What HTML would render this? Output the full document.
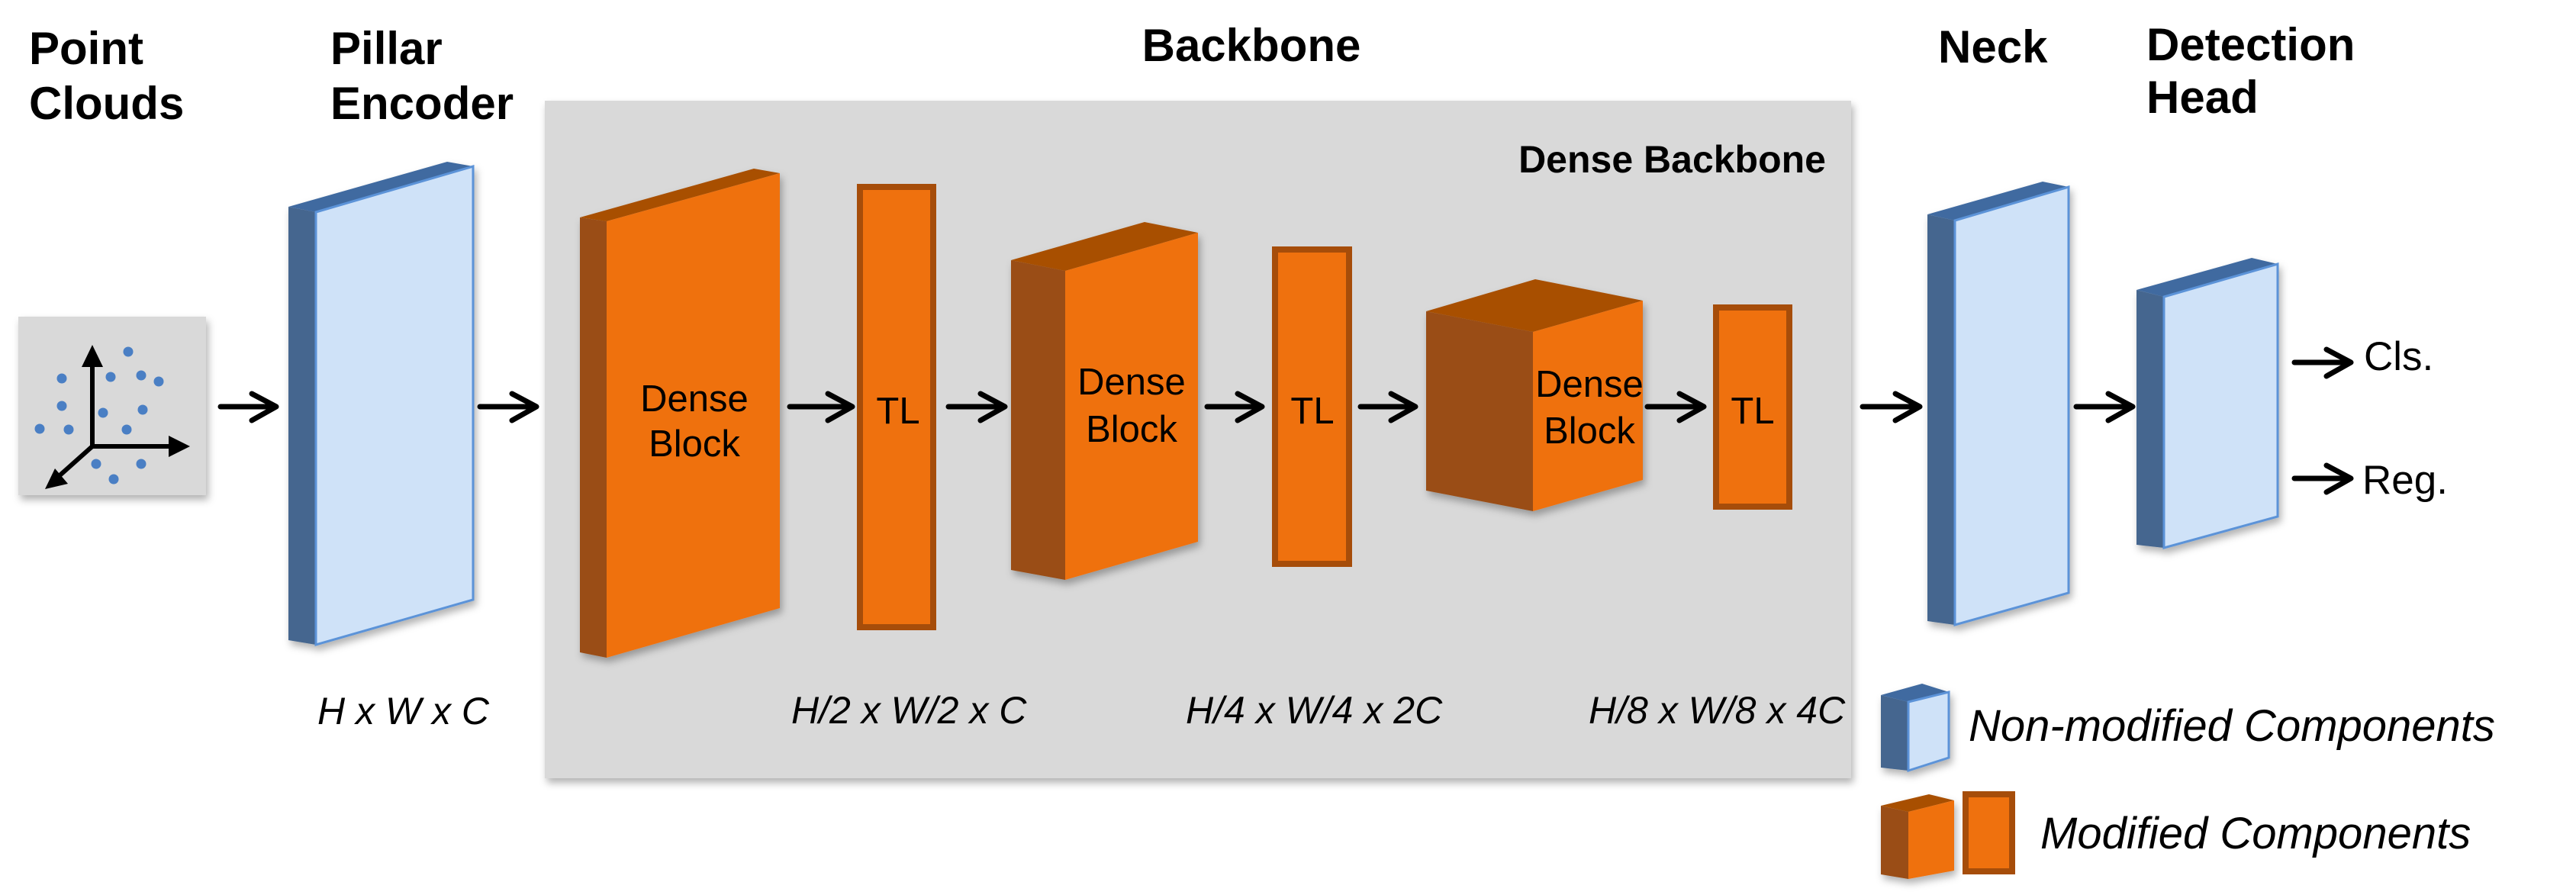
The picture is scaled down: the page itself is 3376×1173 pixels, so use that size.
<!DOCTYPE html>
<html><head><meta charset="utf-8"><style>
html,body{margin:0;padding:0;background:#fff;}
svg{display:block;}
text{font-family:"Liberation Sans",Arial,sans-serif;}
.b{font-weight:bold;font-size:60px;}
.it{font-style:italic;font-size:50px;}
</style></head><body>
<svg width="3376" height="1173" viewBox="0 0 3376 1173" xmlns="http://www.w3.org/2000/svg">
<defs>
<filter id="sh" x="-10%" y="-10%" width="130%" height="130%"><feDropShadow dx="3" dy="6" stdDeviation="5" flood-color="#000" flood-opacity="0.3"/></filter>
</defs>

<!-- titles -->
<text class="b" x="38" y="84">Point</text>
<text class="b" x="38" y="156">Clouds</text>
<text class="b" x="433" y="84">Pillar</text>
<text class="b" x="433" y="156">Encoder</text>
<text class="b" x="1640" y="80" text-anchor="middle">Backbone</text>
<text class="b" x="2540" y="82">Neck</text>
<text class="b" x="2813" y="79">Detection</text>
<text class="b" x="2813" y="148">Head</text>

<!-- point cloud box -->
<rect x="24" y="415" width="246" height="234" fill="#d9d9d9" filter="url(#sh)"/>
<g fill="#4a7fc4">
<circle cx="168" cy="461" r="6.5"/><circle cx="81" cy="496" r="6.5"/><circle cx="145" cy="494" r="6.5"/>
<circle cx="185" cy="492" r="6.5"/><circle cx="208" cy="500" r="6.5"/><circle cx="81" cy="532" r="6.5"/>
<circle cx="135" cy="541" r="6.5"/><circle cx="187" cy="537" r="6.5"/><circle cx="52" cy="562" r="6.5"/>
<circle cx="90" cy="563" r="6.5"/><circle cx="166" cy="563" r="6.5"/><circle cx="126" cy="608" r="6.5"/>
<circle cx="185" cy="608" r="6.5"/><circle cx="149" cy="628" r="6.5"/>
</g>
<g stroke="#000" stroke-width="6" fill="#000">
<line x1="121" y1="585" x2="121" y2="475"/><polygon points="121,452 107,481 135,481" stroke="none"/>
<line x1="121" y1="585" x2="225" y2="585"/><polygon points="249,585 221,571 221,599" stroke="none"/>
<line x1="121" y1="585" x2="75" y2="626"/><polygon points="59,641 89,634 72,614" stroke="none"/>
</g>

<!-- backbone panel -->
<rect x="714" y="132" width="1712" height="888" fill="#d9d9d9" filter="url(#sh)"/>
<text x="2393" y="226" text-anchor="end" font-weight="bold" font-size="50">Dense Backbone</text>

<!-- pillar encoder -->
<g filter="url(#sh)">
<polygon points="378,271 414,278 414,845 378,839" fill="#44668f"/>
<polygon points="378,271 586,212 620,218 414,278" fill="#3f6aa0"/>
<polygon points="414,278 620,218 620,786 414,845" fill="#cfe2f8" stroke="#5b93d8" stroke-width="3"/>
</g>

<!-- dense block 1 -->
<g filter="url(#sh)">
<polygon points="760,285 795,290 795,862 760,855" fill="#9a4e17"/>
<polygon points="760,285 988,221 1022,227 795,290" fill="#a84f04"/>
<polygon points="795,290 1022,227 1022,797 795,862" fill="#ef710e"/>
</g>
<text x="910" y="539" text-anchor="middle" font-size="49">Dense</text>
<text x="910" y="598" text-anchor="middle" font-size="49">Block</text>

<!-- TL1 -->
<rect x="1127" y="245" width="96" height="577" fill="#ef710e" stroke="#a64d0a" stroke-width="8"/>
<text x="1177" y="555" text-anchor="middle" font-size="49">TL</text>

<!-- dense block 2 -->
<g filter="url(#sh)">
<polygon points="1325,341 1396,355 1396,760 1325,747" fill="#9a4e17"/>
<polygon points="1325,341 1500,291 1570,305 1396,355" fill="#a84f04"/>
<polygon points="1396,355 1570,305 1570,710 1396,760" fill="#ef710e"/>
</g>
<text x="1483" y="517" text-anchor="middle" font-size="49">Dense</text>
<text x="1483" y="579" text-anchor="middle" font-size="49">Block</text>

<!-- TL2 -->
<rect x="1671" y="327" width="97" height="412" fill="#ef710e" stroke="#a64d0a" stroke-width="8"/>
<text x="1720" y="555" text-anchor="middle" font-size="49">TL</text>

<!-- dense block 3 -->
<g filter="url(#sh)">
<polygon points="1869,408 2009,435 2009,670 1869,643" fill="#9a4e17"/>
<polygon points="1869,408 2012,366 2153,394 2009,435" fill="#a84f04"/>
<polygon points="2009,435 2153,394 2153,629 2009,670" fill="#ef710e"/>
</g>
<text x="2083" y="520" text-anchor="middle" font-size="49">Dense</text>
<text x="2083" y="581" text-anchor="middle" font-size="49">Block</text>

<!-- TL3 -->
<rect x="2249" y="403" width="96" height="261" fill="#ef710e" stroke="#a64d0a" stroke-width="8"/>
<text x="2297" y="555" text-anchor="middle" font-size="49">TL</text>

<!-- dims -->
<text class="it" x="416" y="949">H x W x C</text>
<text class="it" x="1037" y="948">H/2 x W/2 x C</text>
<text class="it" x="1554" y="948">H/4 x W/4 x 2C</text>
<text class="it" x="2082" y="948">H/8 x W/8 x 4C</text>

<!-- neck -->
<g filter="url(#sh)">
<polygon points="2526,281 2562,289 2562,819 2526,814" fill="#44668f"/>
<polygon points="2526,281 2677,238 2711,245 2562,289" fill="#3f6aa0"/>
<polygon points="2562,289 2711,245 2711,777 2562,819" fill="#cfe2f8" stroke="#5b93d8" stroke-width="3"/>
</g>
<!-- head -->
<g filter="url(#sh)">
<polygon points="2800,380 2836,389 2836,718 2800,714" fill="#44668f"/>
<polygon points="2800,380 2951,338 2985,346 2836,389" fill="#3f6aa0"/>
<polygon points="2836,389 2985,346 2985,677 2836,718" fill="#cfe2f8" stroke="#5b93d8" stroke-width="3"/>
</g>
<text x="3098" y="485" font-size="53">Cls.</text>
<text x="3096" y="647" font-size="53">Reg.</text>

<!-- legend -->
<g filter="url(#sh)">
<polygon points="2465,911 2501,920 2501,1010 2465,1006" fill="#44668f"/>
<polygon points="2465,911 2519,896 2554,907 2501,920" fill="#3f6aa0"/>
<polygon points="2501,920 2554,907 2554,993 2501,1010" fill="#cfe2f8" stroke="#5b93d8" stroke-width="3"/>
</g>
<text x="2580" y="971" font-style="italic" font-size="58">Non-modified Components</text>
<g filter="url(#sh)">
<polygon points="2465,1056 2501,1064 2501,1152 2465,1146" fill="#9a4e17"/>
<polygon points="2465,1056 2528,1041 2561,1049 2501,1064" fill="#a84f04"/>
<polygon points="2501,1064 2561,1049 2561,1141 2501,1152" fill="#ef710e"/>
</g>
<rect x="2576" y="1041" width="61" height="101" fill="#ef710e" stroke="#a64d0a" stroke-width="8"/>
<text x="2674" y="1112" font-style="italic" font-size="58">Modified Components</text>

<!-- arrows -->
<g stroke="#000" stroke-width="7" fill="none" stroke-linecap="round" stroke-linejoin="round">
<path d="M289 533 H361 M330 516 L362 533 L330 551"/>
<path d="M629 533 H702 M671 516 L703 533 L671 551"/>
<path d="M1035 533 H1116 M1085 516 L1117 533 L1085 551"/>
<path d="M1243 533 H1316 M1285 516 L1317 533 L1285 551"/>
<path d="M1582 533 H1653 M1622 516 L1654 533 L1622 551"/>
<path d="M1783 533 H1854 M1823 516 L1855 533 L1823 551"/>
<path d="M2159 533 H2232 M2201 516 L2233 533 L2201 551"/>
<path d="M2441 533 H2515 M2484 516 L2516 533 L2484 551"/>
<path d="M2721 533 H2794 M2763 516 L2795 533 L2763 551"/>
<path d="M3007 475 H3080 M3049 458 L3081 475 L3049 493"/>
<path d="M3007 627 H3080 M3049 610 L3081 627 L3049 645"/>
</g>
</svg>
</body></html>
